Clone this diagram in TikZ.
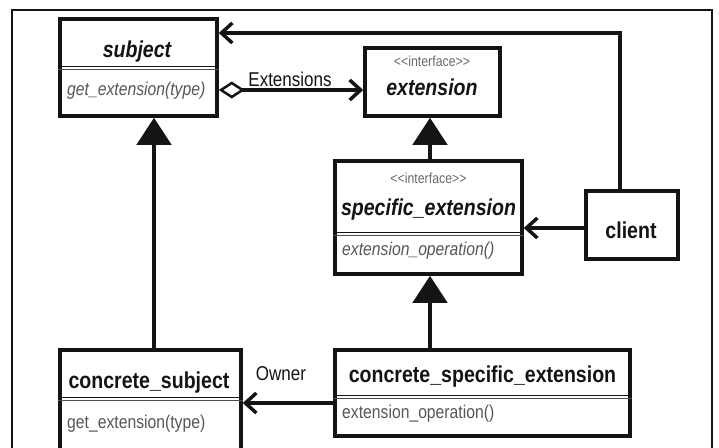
\documentclass[tikz,border=0pt]{standalone}
\usepackage{fontspec}
\setmainfont{Liberation Sans}[FakeStretch=0.85]
\usetikzlibrary{arrows.meta}
\definecolor{ink}{HTML}{141414}
\definecolor{methodgray}{HTML}{575757}
\definecolor{stereogray}{HTML}{6A6A6A}
% double rule separating a class name from its operations
\newcommand\umlrule[2]{%
  \coordinate (rule-a) at (0,#2);
  \coordinate (rule-b) at (0,#2+3);
  \draw[ink, line width=1.3pt] (#1.west |- rule-a) -- (#1.east |- rule-a);
  \draw[ink!75, line width=1.3pt] (#1.west |- rule-b) -- (#1.east |- rule-b);
}
\begin{document}
\begin{tikzpicture}[x=1pt, y=-1pt,
  classbox/.style={draw=ink, line width=3.5pt, fill=white, inner sep=0pt},
  title/.style={anchor=base, inner sep=0pt, text=ink, font=\fontsize{23}{26}\selectfont\bfseries},
  abstitle/.style={title, font=\fontsize{23}{26}\selectfont\bfseries\itshape},
  stereo/.style={anchor=base, inner sep=0pt, text=stereogray, font=\fontsize{14.5}{16}\selectfont},
  op/.style={anchor=base west, inner sep=0pt, text=methodgray, font=\fontsize{18.5}{20}\selectfont},
  absop/.style={op, font=\fontsize{18.5}{20}\selectfont\itshape},
  rolelabel/.style={anchor=base, inner sep=0pt, text=ink, font=\fontsize{20}{22}\selectfont},
  assoc/.style={draw=ink, line width=3.5pt, -{Straight Barb[length=11pt,width=20pt]}},
  aggr/.style={draw=ink, line width=3.5pt,
    {Diamond[open, length=26pt, width=17pt, line width=2.5pt]}-{Straight Barb[length=11pt,width=20pt]}},
  inherit/.style={draw=ink, line width=4.5pt, -{Triangle[length=27pt,width=34pt]}}
]
\path[use as bounding box] (0,0) rectangle (719,447);
\clip (0,0) rectangle (719,447);
\fill[white] (0,0) rectangle (719,447);

% outer frame
\draw[ink, line width=2pt] (12,10) rectangle (712,480);

% classes
\node[classbox, minimum width=157pt, minimum height=97pt] (subject) at (138.5,67.5) {};
\node[classbox, minimum width=135pt, minimum height=68pt] (extension) at (432.5,82) {};
\node[classbox, minimum width=187pt, minimum height=113pt] (specific) at (428.5,217.5) {};
\node[classbox, minimum width=92pt, minimum height=68pt] (client) at (632,225) {};
\node[classbox, minimum width=181pt, minimum height=120pt] (csubj) at (150.5,410) {};
\node[classbox, minimum width=295pt, minimum height=86pt] (cspec) at (482.5,393) {};

\umlrule{subject}{66.5}
\umlrule{specific}{232.5}
\umlrule{csubj}{397.5}
\umlrule{cspec}{395.5}

% class texts
\node[abstitle] (subject-name) at (137,57) {subject};
\node[absop] (subject-op) at (67,95) {get\_extension(type)};

\node[stereo] (extension-st) at (432,66) {<{}<interface>{}>};
\node[abstitle] (extension-name) at (432,95) {extension};

\node[stereo] (specific-st) at (428.5,183) {<{}<interface>{}>};
\node[abstitle] (specific-name) at (428.5,215) {specific\_extension};
\node[absop] (specific-op) at (342,255) {extension\_operation()};

\node[title] (client-name) at (631,238) {client};

\node[title] (csubj-name) at (149,388) {concrete\_subject};
\node[op] (csubj-op) at (67,428) {get\_extension(type)};

\node[title] (cspec-name) at (482.5,382) {concrete\_specific\_extension};
\node[op] (cspec-op) at (342,418) {extension\_operation()};

% connectors
\coordinate (top-run) at (620,33);
\draw[assoc] (client.north -| top-run) |- (subject.east |- top-run);

\coordinate (agg-run) at (0,90);
\draw[aggr] (subject.east |- agg-run) -- (extension.west |- agg-run);
\node[rolelabel] (ext-role) at (290,86) {Extensions};

\coordinate (inh-run) at (430,0);
\draw[inherit] (specific.north -| inh-run) -- (extension.south -| inh-run);
\draw[inherit] (cspec.north -| inh-run) -- (specific.south -| inh-run);

\coordinate (cli-run) at (0,228);
\draw[assoc] (client.west |- cli-run) -- (specific.east |- cli-run);

\coordinate (sub-run) at (154,0);
\draw[inherit] (csubj.north -| sub-run) -- (subject.south -| sub-run);

\coordinate (own-run) at (0,403);
\draw[assoc] (cspec.west |- own-run) -- (csubj.east |- own-run);
\node[rolelabel] (own-role) at (281,380) {Owner};
\end{tikzpicture}
\end{document}
